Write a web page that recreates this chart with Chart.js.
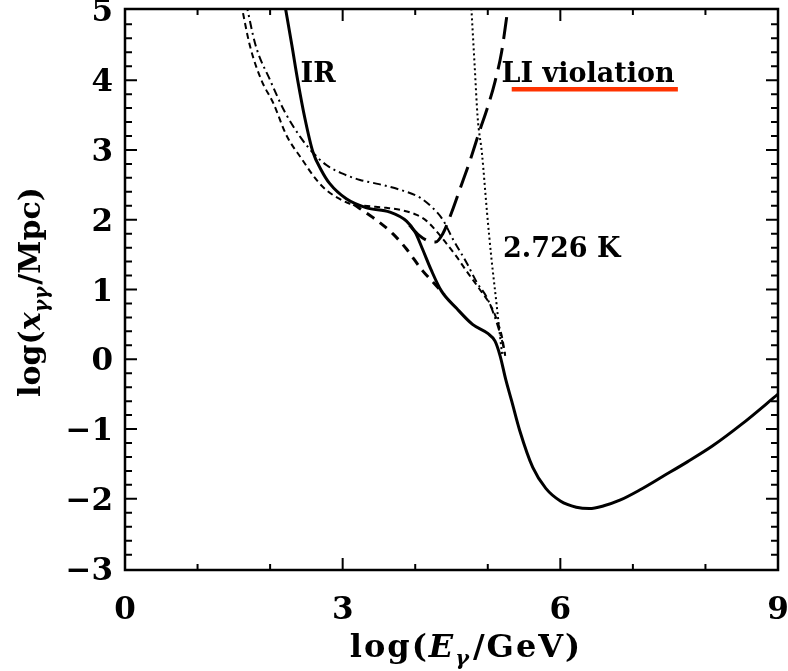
<!DOCTYPE html>
<html>
<head>
<meta charset="utf-8">
<script src="https://cdn.jsdelivr.net/npm/chart.js@4"></script>
<style>
  html, body { margin: 0; padding: 0; background: #fff; overflow: hidden; }
  canvas { display: block; }
</style>
</head>
<body>
<canvas id="chart" width="788" height="671"></canvas>
<script>
// axis ticks
const xTicks = [0, 3, 6, 9];
const xTickLabels = ['0', '3', '6', '9'];
const yTicks = [-3, -2, -1, 0, 1, 2, 3, 4, 5];
const yTickLabels = ['−3', '−2', '−1', '0', '1', '2', '3', '4', '5'];

// IR background, solid
const irE = [2.2, 2.3, 2.38, 2.48, 2.59, 2.7, 2.82, 3.05, 3.33, 3.65, 3.88, 4.0, 4.1, 4.22, 4.36, 4.57, 4.79, 5.0, 5.1, 5.17, 5.25, 5.33, 5.44, 5.62, 5.8, 6.0, 6.22, 6.4, 6.6, 6.82, 7.1, 7.41, 7.75, 8.1, 8.5, 9.0];
const irX = [5.1, 4.5, 4.0, 3.45, 2.97, 2.72, 2.52, 2.3, 2.17, 2.11, 1.98, 1.82, 1.58, 1.28, 0.98, 0.73, 0.5, 0.37, 0.26, 0.05, -0.3, -0.6, -1.02, -1.55, -1.85, -2.03, -2.12, -2.14, -2.1, -2.02, -1.87, -1.68, -1.47, -1.24, -0.93, -0.5];

// thick dashed branch under the solid curve
const lowE = [3.15, 3.42, 3.69, 3.88, 4.1, 4.25, 4.4];
const lowX = [2.22, 2.03, 1.8, 1.58, 1.27, 1.1, 0.93];

// thin dashed
const dashE = [1.6, 1.72, 1.88, 2.04, 2.23, 2.43, 2.64, 2.78, 2.92, 3.1, 3.3, 3.6, 3.8, 4.02, 4.16, 4.28, 4.4, 4.57, 4.71, 4.89, 5.05, 5.14, 5.2, 5.24];
const dashX = [5.1, 4.5, 4.0, 3.68, 3.2, 2.88, 2.57, 2.42, 2.32, 2.23, 2.2, 2.17, 2.14, 2.07, 1.98, 1.85, 1.7, 1.47, 1.26, 1.0, 0.75, 0.52, 0.3, 0.05];

// thin dash-dot
const dotDashE = [1.67, 1.8, 2.0, 2.2, 2.42, 2.6, 2.78, 3.0, 3.24, 3.5, 3.79, 4.06, 4.24, 4.38, 4.52, 4.71, 4.85, 4.98, 5.06, 5.14, 5.2, 5.24];
const dotDashX = [5.1, 4.5, 4.0, 3.55, 3.18, 2.95, 2.78, 2.66, 2.57, 2.51, 2.43, 2.32, 2.17, 2.0, 1.72, 1.38, 1.1, 0.9, 0.71, 0.47, 0.25, 0.05];

// Lorentz invariance violation, long dashes
const liE = [3.92, 4.05, 4.17, 4.28, 4.38, 4.5, 4.62, 4.75, 4.88, 5.0, 5.1, 5.19, 5.26, 5.3];
const liX = [1.92, 1.78, 1.7, 1.68, 1.8, 2.1, 2.45, 2.83, 3.25, 3.62, 3.98, 4.4, 4.9, 5.2];

// CMB 2.726 K, dotted
const cmbE = [4.77, 4.82, 4.86, 4.92, 4.99, 5.05, 5.12, 5.17, 5.2];
const cmbX = [5.1, 4.19, 3.47, 2.95, 2.1, 1.45, 0.8, 0.32, 0.05];

const pts = (xs, ys) => xs.map((x, i) => ({ x: x, y: ys[i] }));

function serie(xs, ys, width, dash) {
  return {
    data: pts(xs, ys),
    borderColor: '#000',
    borderWidth: width,
    borderDash: dash,
    pointRadius: 0,
    cubicInterpolationMode: 'monotone',
    fill: false,
    clip: 0
  };
}

const serif = '"DejaVu Serif", serif';

// inward ticks and frame, like the original plot
const frame = {
  id: 'frame',
  afterDraw(chart) {
    const { ctx, chartArea: a, scales } = chart;
    const sx = scales.x, sy = scales.y;
    ctx.save();
    ctx.strokeStyle = '#000';
    ctx.lineWidth = 2.5;
    ctx.strokeRect(a.left, a.top, a.right - a.left, a.bottom - a.top);
    ctx.lineWidth = 2;
    ctx.beginPath();
    for (let v = 1; v <= 8; v++) {
      const len = v % 3 === 0 ? 12 : 6;
      const px = sx.getPixelForValue(v);
      ctx.moveTo(px, a.bottom); ctx.lineTo(px, a.bottom - len);
      ctx.moveTo(px, a.top); ctx.lineTo(px, a.top + len);
    }
    for (let k = -14; k <= 24; k++) {
      const v = k / 5;
      const len = k % 5 === 0 ? 12 : 7;
      const py = sy.getPixelForValue(v);
      ctx.moveTo(a.left, py); ctx.lineTo(a.left + len, py);
      ctx.moveTo(a.right, py); ctx.lineTo(a.right - len, py);
    }
    ctx.stroke();
    ctx.restore();
  }
};

// draws a run of text pieces, with italics and subscripts
function richText(ctx, pieces, size) {
  let w = 0;
  pieces.forEach(p => {
    const s = p.sub ? size * 0.65 : size;
    ctx.font = (p.it ? 'italic ' : '') + 'bold ' + s + 'px ' + serif;
    p.w = ctx.measureText(p.t).width + (p.gap || 0);
    w += p.w;
  });
  let x = -w / 2;
  pieces.forEach(p => {
    const s = p.sub ? size * 0.65 : size;
    ctx.font = (p.it ? 'italic ' : '') + 'bold ' + s + 'px ' + serif;
    ctx.fillText(p.t, x, p.sub ? size * 0.25 : 0);
    x += p.w;
  });
}

const labels = {
  id: 'labels',
  afterDraw(chart) {
    const { ctx, scales } = chart;
    const sx = scales.x, sy = scales.y;
    ctx.save();
    ctx.fillStyle = '#000';
    ctx.textBaseline = 'alphabetic';
    ctx.textAlign = 'left';

    ctx.font = 'bold 27px ' + serif;
    ctx.fillText('IR', sx.getPixelForValue(2.42), sy.getPixelForValue(3.97));
    ctx.fillText('LI violation', sx.getPixelForValue(5.19), sy.getPixelForValue(3.97));
    ctx.fillText('2.726 K', sx.getPixelForValue(5.21), sy.getPixelForValue(1.47));

    ctx.strokeStyle = '#ff3300';
    ctx.lineWidth = 4.5;
    ctx.beginPath();
    ctx.moveTo(sx.getPixelForValue(5.33), sy.getPixelForValue(3.87));
    ctx.lineTo(sx.getPixelForValue(7.62), sy.getPixelForValue(3.87));
    ctx.stroke();

    // x title
    ctx.save();
    ctx.translate(466, 657);
    ctx.letterSpacing = '2px';
    richText(ctx, [
      { t: 'log(' }, { t: 'E', it: true }, { t: 'γ', it: true, sub: true, gap: 2 }, { t: '/GeV)' }
    ], 32);
    ctx.restore();

    // y title
    ctx.save();
    ctx.translate(40, 292);
    ctx.rotate(-Math.PI / 2);
    richText(ctx, [
      { t: 'log(' }, { t: 'x', it: true }, { t: 'γγ', it: true, sub: true, gap: 2 }, { t: '/Mpc)' }
    ], 30);
    ctx.restore();

    ctx.restore();
  }
};

new Chart(document.getElementById('chart'), {
  type: 'line',
  data: {
    datasets: [
      serie(irE, irX, 3, []),
      serie(lowE, lowX, 3, [9, 7]),
      serie(dashE, dashX, 2, [6, 4]),
      serie(dotDashE, dotDashX, 2, [8, 4, 2, 4]),
      serie(liE, liX, 3, [22, 9]),
      serie(cmbE, cmbX, 2, [2, 3])
    ]
  },
  options: {
    responsive: false,
    animation: false,
    events: [],
    layout: { padding: { top: 9, right: 10, left: 0, bottom: 0 } },
    plugins: { legend: { display: false }, tooltip: { enabled: false } },
    scales: {
      x: {
        type: 'linear',
        min: 0,
        max: 9,
        afterFit: s => { s.height = 101; s.paddingLeft = 0; s.paddingRight = 0; },
        afterBuildTicks: s => { s.ticks = xTicks.map(v => ({ value: v })); },
        grid: { display: false },
        border: { display: false },
        ticks: {
          color: '#000',
          padding: 14,
          maxRotation: 0,
          font: { family: serif, size: 31, weight: 'bold' },
          callback: (v, i) => xTickLabels[i]
        }
      },
      y: {
        type: 'linear',
        min: -3.02,
        max: 5.02,
        afterFit: s => { s.width = 125; s.paddingTop = 0; s.paddingBottom = 0; },
        afterBuildTicks: s => { s.ticks = yTicks.map(v => ({ value: v })); },
        grid: { display: false },
        border: { display: false },
        ticks: {
          color: '#000',
          padding: 4,
          labelOffset: 3,
          font: { family: serif, size: 31, weight: 'bold' },
          callback: (v, i) => yTickLabels[i]
        }
      }
    }
  },
  plugins: [frame, labels]
});
</script>
</body>
</html>
